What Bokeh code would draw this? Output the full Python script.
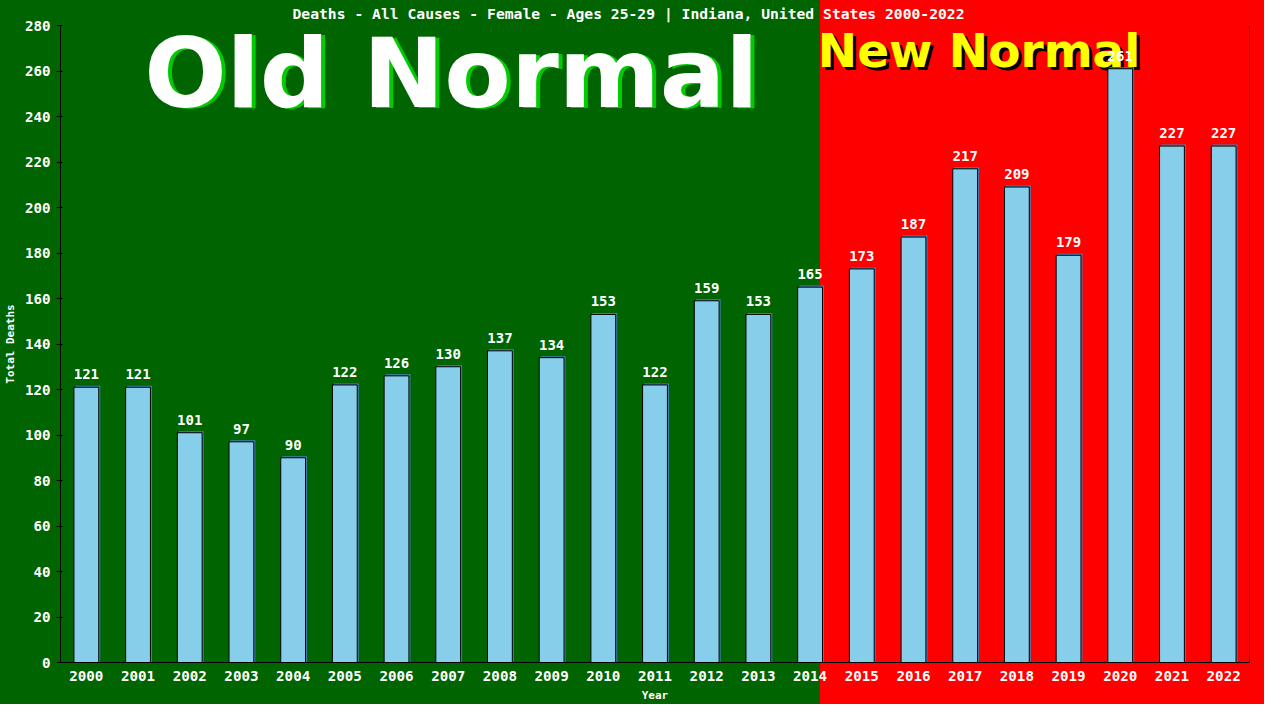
from bokeh.plotting import figure
from bokeh.models import (BoxAnnotation, Label, Span, FactorRange, Range1d,
                          FixedTicker, ColumnDataSource)
from bokeh.transform import dodge
from bokeh.core.properties import value
from bokeh.embed import file_html
from bokeh.resources import INLINE

# ---------------- data ----------------
years = [str(y) for y in range(2000, 2023)]
deaths = [121, 121, 101, 97, 90, 122, 126, 130, 137, 134, 153, 122, 159,
          153, 165, 173, 187, 217, 209, 179, 261, 227, 227]
y_ticks = list(range(0, 281, 20))
title_text = "Deaths - All Causes - Female - Ages 25-29 | Indiana, United States 2000-2022"
split_after = "2014"
old_label = "Old Normal"
new_label = "New Normal"

# ---------------- style ----------------
GREEN = "#006400"
RED = "#FF0000"
BAR = "#87CEEB"
BAR_SHADOW = "#4682B4"
MONO = "DejaVu Sans Mono"
W, H = 1264, 704
SPLIT_PX = 820  # canvas x where the red "new normal" zone starts

p = figure(x_range=FactorRange(factors=years, range_padding=0),
           y_range=Range1d(0, 280),
           width=W, height=H, output_backend="svg", toolbar_location=None,
           min_border_left=59, min_border_right=15,
           min_border_top=25, min_border_bottom=42)

# two-tone page background (green left, red right) behind a transparent canvas
p.styles = {"background": f"linear-gradient(to right, {GREEN} 0px, {GREEN} {SPLIT_PX}px, "
                          f"{RED} {SPLIT_PX}px, {RED} 100%)"}
p.background_fill_alpha = 0
p.border_fill_alpha = 0
p.outline_line_color = None
p.xgrid.grid_line_color = None
p.ygrid.grid_line_color = None

# red region inside the frame, tied to the category axis
red = BoxAnnotation(left=years.index(split_after) + 0.7,
                    fill_color=RED, fill_alpha=1.0, line_color=None,
                    level="underlay")
p.add_layout(red)

# big captions (anchor = vertical centre of capitals)
old_shadow = Label(x=7.56, y=258.8, text=old_label, text_align="center",
                   text_baseline="alphabetic", text_font="DejaVu Sans",
                   text_font_style="bold", text_font_size="97px",
                   text_color="#00CC00", x_offset=4, y_offset=-1, level="underlay")
old_main = Label(x=7.56, y=258.8, text=old_label, text_align="center",
                 text_baseline="alphabetic", text_font="DejaVu Sans",
                 text_font_style="bold", text_font_size="97px",
                 text_color="white", level="underlay")
new_shadow = Label(x=14.65, y=269.2, text=new_label, text_align="left",
                   text_baseline="alphabetic", text_font="DejaVu Sans",
                   text_font_style="bold", text_font_size="47px",
                   text_color="black", x_offset=3, y_offset=-3, level="underlay")
new_main = Label(x=14.65, y=269.2, text=new_label, text_align="left",
                 text_baseline="alphabetic", text_font="DejaVu Sans",
                 text_font_style="bold", text_font_size="47px",
                 text_color="#FFFF00", level="underlay")
for lab in (old_shadow, old_main, new_shadow, new_main):
    p.add_layout(lab)

src = ColumnDataSource(dict(
    year=years,
    deaths=deaths,
    shadow_top=[d + 0.66 for d in deaths],
    label=[str(d) for d in deaths],
))

# bar shadow (steel blue edge on top/right) then bar
p.vbar(x=dodge("year", 0.029, range=p.x_range), top="shadow_top", width=0.48,
       source=src, fill_color=BAR_SHADOW, line_color=None)
p.vbar(x="year", top="deaths", width=0.48, source=src,
       fill_color=BAR, line_color="black", line_width=1)

p.text(x="year", y="deaths", text="label", source=src,
       text_align="center", text_baseline="alphabetic", y_offset=-13,
       text_color="white", text_font=value(MONO), text_font_style="bold",
       text_font_size="14px")

# right frame edge
p.add_layout(Span(location=len(years), dimension="height",
                  line_color="black", line_width=1))

# axes
p.yaxis.ticker = FixedTicker(ticks=y_ticks)
for ax in (p.xaxis[0], p.yaxis[0]):
    ax.axis_line_color = "black"
    ax.major_label_text_color = "white"
    ax.major_label_text_font = MONO
    ax.major_label_text_font_style = "bold"
    ax.major_label_text_font_size = "14.2px"
    ax.axis_label_text_color = "white"
    ax.axis_label_text_font = MONO
    ax.axis_label_text_font_style = "bold"
    ax.axis_label_text_font_size = "11px"
    ax.minor_tick_line_color = None

p.yaxis.axis_label = "Total Deaths"
p.yaxis.major_tick_line_color = "black"
p.yaxis.major_tick_in = 2
p.yaxis.major_tick_out = 4
p.yaxis.major_label_standoff = 6
p.yaxis.axis_label_standoff = 5

p.xaxis.axis_label = "Year"
p.xaxis.major_tick_line_color = None
p.xaxis.major_tick_in = 0
p.xaxis.major_tick_out = 0
p.xaxis.major_label_standoff = 8
p.xaxis.axis_label_standoff = 5

# title
p.title.text = title_text
p.title.align = "left"
p.title.offset = 232
p.title.text_color = "white"
p.title.text_font = MONO
p.title.text_font_style = "bold"
p.title.text_font_size = "14.7px"
p.title.standoff = 5
p.title.vertical_align = "middle"

open("out.html", "w").write(file_html(p, INLINE))
